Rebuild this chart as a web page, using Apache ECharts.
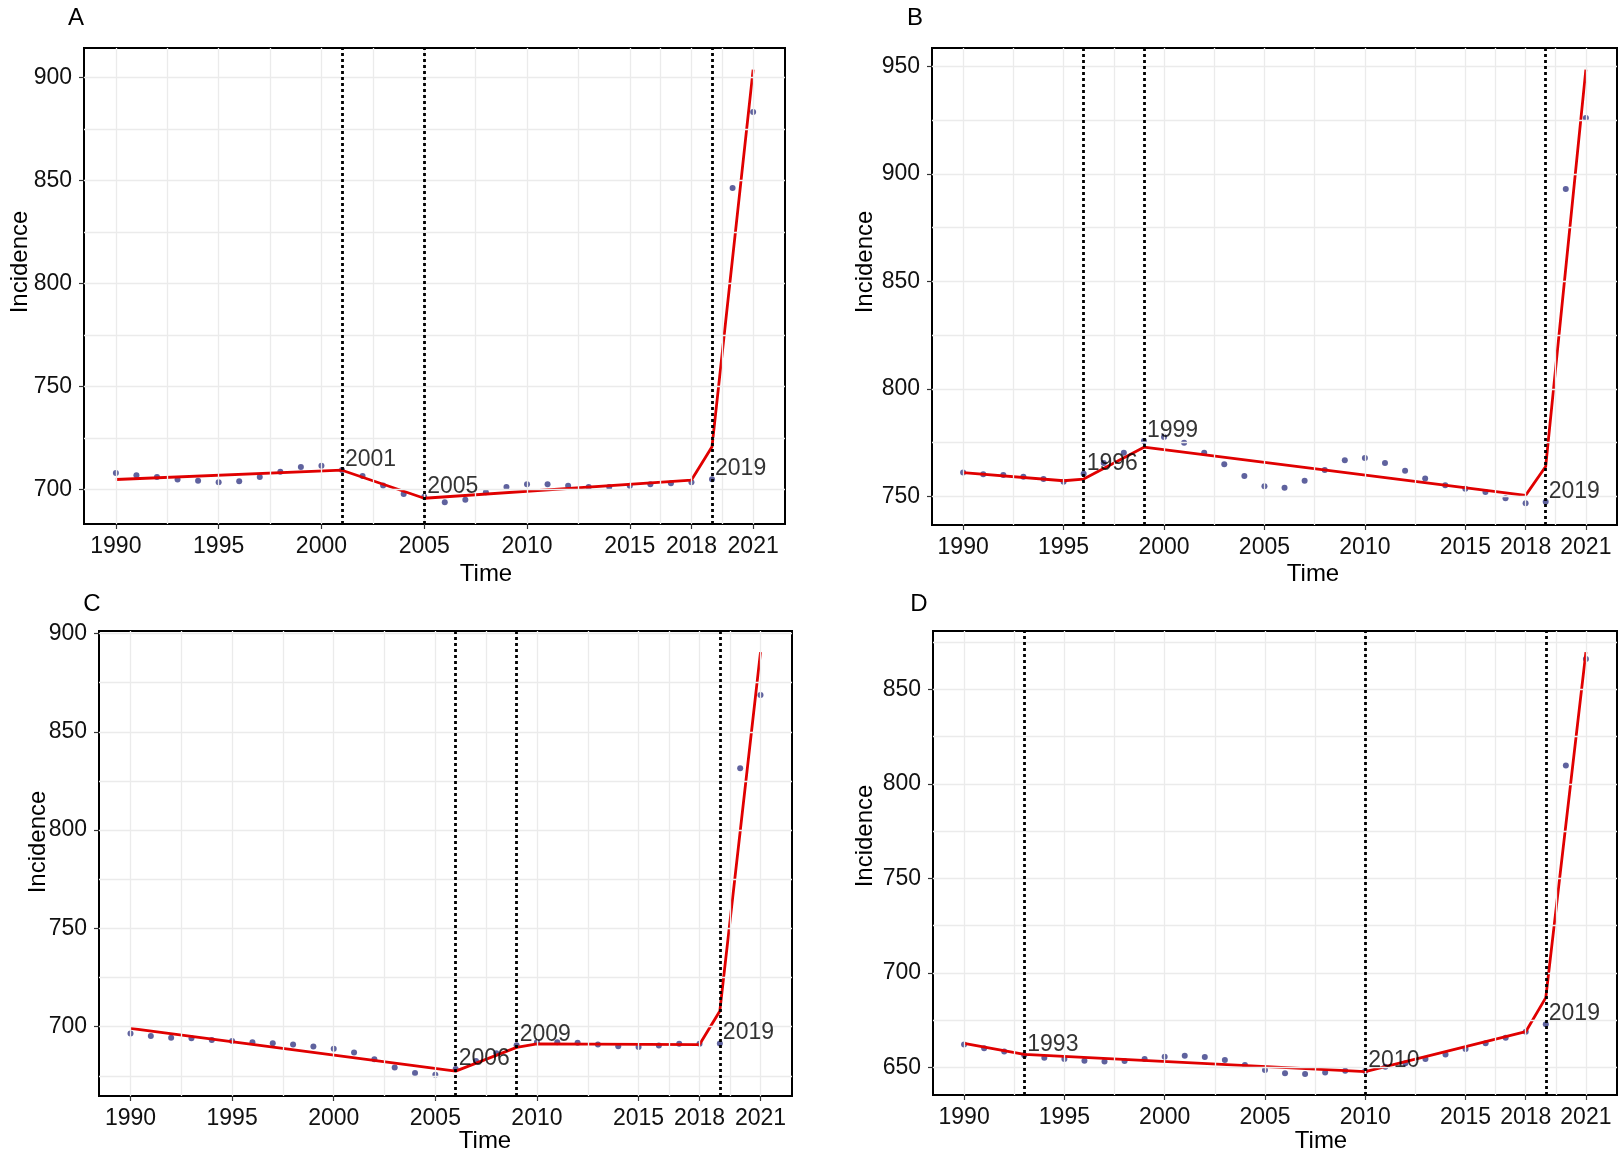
<!DOCTYPE html>
<html>
<head>
<meta charset="utf-8">
<script src="https://cdn.jsdelivr.net/npm/echarts@6/dist/echarts.min.js"></script>
<style>
html,body{margin:0;padding:0;background:#fff;}
#chart{width:1624px;height:1155px;}
</style>
</head>
<body>
<div id="chart"></div>
<script>
// ---------------- data ----------------
const years = [1990,1991,1992,1993,1994,1995,1996,1997,1998,1999,2000,2001,2002,2003,2004,2005,
               2006,2007,2008,2009,2010,2011,2012,2013,2014,2015,2016,2017,2018,2019,2020,2021];
const xBreaks = [1990,1995,2000,2005,2010,2015,2018,2021];
const xMinorBreaks = [1992.5,1997.5,2002.5,2007.5,2012.5,2016.5,2019.5];

// Panel A
const obsA = [708.1,706.9,706.1,704.9,704.3,703.6,704.1,706.1,708.7,710.9,711.5,709.5,706.6,702.0,697.9,696.5,
              693.8,695.1,698.7,701.2,702.6,702.6,701.8,701.2,701.2,701.8,702.6,703.1,703.6,705.0,846.3,883.2];
const fitYearsA = [1990,2001,2005,2018,2019,2021];
const fitA = [704.9,709.4,695.8,704.6,720.8,903.7];
const jpA = [2001,2005,2019];
const yTicksA = [700,750,800,850,900];
const yMinorA = [725,775,825,875];

// Panel B
const obsB = [761.1,760.3,760.0,759.2,758.1,756.8,760.5,765.5,770.3,775.8,777.7,775.0,770.3,765.0,759.5,754.7,
              754.0,757.3,762.3,766.8,767.9,765.5,761.9,758.4,755.2,753.6,752.1,749.2,746.8,747.5,893.0,926.0];
const fitYearsB = [1990,1995,1996,1999,2018,2019,2021];
const fitB = [761.1,757.3,758.1,772.9,750.5,763.9,948.5];
const jpB = [1996,1999,2019];
const yTicksB = [750,800,850,900,950];
const yMinorB = [775,825,875,925];

// Panel C
const obsC = [696.5,695.3,694.4,694.1,693.2,692.7,692.1,691.6,690.9,689.9,688.8,686.9,683.4,679.2,676.4,675.5,
              678.5,682.5,686.5,690.5,692.1,692.1,691.8,690.9,690.0,689.7,690.4,691.3,691.3,691.5,831.5,868.7];
const fitYearsC = [1990,2006,2009,2010,2018,2019,2021];
const fitC = [699.1,677.4,689.5,691.3,690.9,708.0,890.5];
const jpC = [2006,2009,2019];
const yTicksC = [700,750,800,850,900];
const yMinorC = [675,725,775,825,875];

// Panel D
const obsD = [662.3,660.2,658.5,656.5,655.3,654.6,653.7,653.2,653.5,654.6,655.8,656.3,655.6,654.0,651.4,648.8,
              647.0,646.7,647.5,648.4,648.2,650.5,652.3,654.6,657.0,659.9,662.9,665.8,669.0,673.0,809.7,866.0];
const fitYearsD = [1990,1993,2010,2018,2019,2021];
const fitD = [662.9,657.0,647.9,669.0,687.0,869.6];
const jpD = [1993,2010,2019];
const yTicksD = [650,700,750,800,850];
const yMinorD = [675,725,775,825,875];

// ---------------- layout ----------------
const panels = [
  {letter:'A', obs:obsA, fx:fitYearsA, fy:fitA, jp:jpA, yt:yTicksA, ym:yMinorA},
  {letter:'B', obs:obsB, fx:fitYearsB, fy:fitB, jp:jpB, yt:yTicksB, ym:yMinorB},
  {letter:'C', obs:obsC, fx:fitYearsC, fy:fitC, jp:jpC, yt:yTicksC, ym:yMinorC},
  {letter:'D', obs:obsD, fx:fitYearsD, fy:fitD, jp:jpD, yt:yTicksD, ym:yMinorD}
];
const layout = [
  {left:84,  top:48,  width:701, height:476, letterPos:[76,18],  timePos:[486,574],  incPos:[20,262]},
  {left:932, top:48,  width:685, height:477, letterPos:[915,18], timePos:[1313,574], incPos:[865,262]},
  {left:99,  top:631, width:693, height:465, letterPos:[92,604], timePos:[485,1141], incPos:[38,842]},
  {left:933, top:631, width:684, height:464, letterPos:[919,604],timePos:[1321,1141],incPos:[865,836]}
];

const FONT = 'Liberation Sans, Arial, Helvetica, sans-serif';
const POINT_COLOR = '#4e5193';
const LINE_COLOR = '#e00000';
const GRID_COLOR = '#ebebeb';

function expandRange(a, b) {
  const all = a.concat(b);
  const mn = Math.min.apply(null, all), mx = Math.max.apply(null, all);
  const pad = (mx - mn) * 0.05;
  return [mn - pad, mx + pad];
}
const xPad = (years[years.length-1] - years[0]) * 0.05;
const xMin = years[0] - xPad, xMax = years[years.length-1] + xPad;

const grids = [], xAxes = [], yAxes = [], series = [], graphics = [];

panels.forEach((p, i) => {
  const L = layout[i];
  grids.push({left:L.left, top:L.top, width:L.width, height:L.height, show:true,
              borderColor:'#000', borderWidth:2, backgroundColor:'#fff', containLabel:false});
  const yr = expandRange(p.obs, p.fy);
  xAxes.push({
    type:'value', gridIndex:i, min:xMin, max:xMax,
    axisLine:{show:false},
    axisTick:{show:true, customValues:xBreaks, length:5, lineStyle:{color:'#333', width:1.2}},
    axisLabel:{show:true, customValues:xBreaks, formatter:v => String(v), margin:11,
               color:'#111', fontSize:23, fontFamily:FONT},
    splitLine:{show:false}
  });
  yAxes.push({
    type:'value', gridIndex:i, min:yr[0], max:yr[1],
    axisLine:{show:false},
    axisTick:{show:true, customValues:p.yt, length:5, lineStyle:{color:'#333', width:1.2}},
    axisLabel:{show:true, customValues:p.yt, formatter:v => String(v), margin:12,
               color:'#111', fontSize:23, fontFamily:FONT},
    splitLine:{show:false}
  });
  const fitPairs = p.fx.map((x, k) => [x, p.fy[k]]);
  // grid lines
  const gl = [];
  xBreaks.concat(xMinorBreaks).forEach(v => gl.push({xAxis:v}));
  p.yt.concat(p.ym).forEach(v => gl.push({yAxis:v}));
  series.push({
    type:'line', xAxisIndex:i, yAxisIndex:i, data:fitPairs, z:1, silent:true,
    showSymbol:false, lineStyle:{opacity:0}, itemStyle:{opacity:0},
    markLine:{silent:true, symbol:'none', animation:false, label:{show:false},
              lineStyle:{color:GRID_COLOR, width:1.3, type:'solid'}, data:gl}
  });
  // observed points
  series.push({
    type:'scatter', xAxisIndex:i, yAxisIndex:i, z:2, silent:true,
    data: years.map((y, k) => [y, p.obs[k]]),
    symbol:'circle', symbolSize:6, itemStyle:{color:POINT_COLOR, opacity:0.9}
  });
  // fitted line
  series.push({
    type:'line', xAxisIndex:i, yAxisIndex:i, z:3, silent:true,
    data: fitPairs, showSymbol:false, symbol:'none',
    lineStyle:{color:LINE_COLOR, width:2.8}
  });
  // joinpoint vertical lines
  series.push({
    type:'line', xAxisIndex:i, yAxisIndex:i, data:fitPairs, z:4, silent:true,
    showSymbol:false, lineStyle:{opacity:0}, itemStyle:{opacity:0},
    markLine:{silent:true, symbol:'none', animation:false, label:{show:false},
              lineStyle:{color:'#000', width:2.8, type:[3,3]},
              data: p.jp.map(v => ({xAxis:v}))}
  });
  // joinpoint labels
  series.push({
    type:'scatter', xAxisIndex:i, yAxisIndex:i, z:5, silent:true,
    data: p.jp.map(v => [v, p.obs[years.indexOf(v)]]),
    symbolSize:0,
    label:{show:true, position:[3,1], align:'left', verticalAlign:'bottom',
           formatter: prm => String(prm.value[0]),
           color:'#000', fontSize:23, fontFamily:FONT}
  });
  graphics.push({type:'text', x:L.letterPos[0], y:L.letterPos[1],
    style:{text:p.letter, textAlign:'center', textVerticalAlign:'middle', font:'24px ' + FONT, fill:'#000'}});
  graphics.push({type:'text', x:L.timePos[0], y:L.timePos[1],
    style:{text:'Time', textAlign:'center', textVerticalAlign:'middle', font:'24px ' + FONT, fill:'#000'}});
  graphics.push({type:'text', x:L.incPos[0], y:L.incPos[1], rotation:Math.PI/2,
    style:{text:'Incidence', textAlign:'center', textVerticalAlign:'middle', font:'24px ' + FONT, fill:'#000'}});
});

const chart = echarts.init(document.getElementById('chart'), null, {renderer:'canvas'});
chart.setOption({
  animation:false,
  backgroundColor:'#fff',
  grid:grids, xAxis:xAxes, yAxis:yAxes, series:series, graphic:graphics
});
</script>
</body>
</html>
